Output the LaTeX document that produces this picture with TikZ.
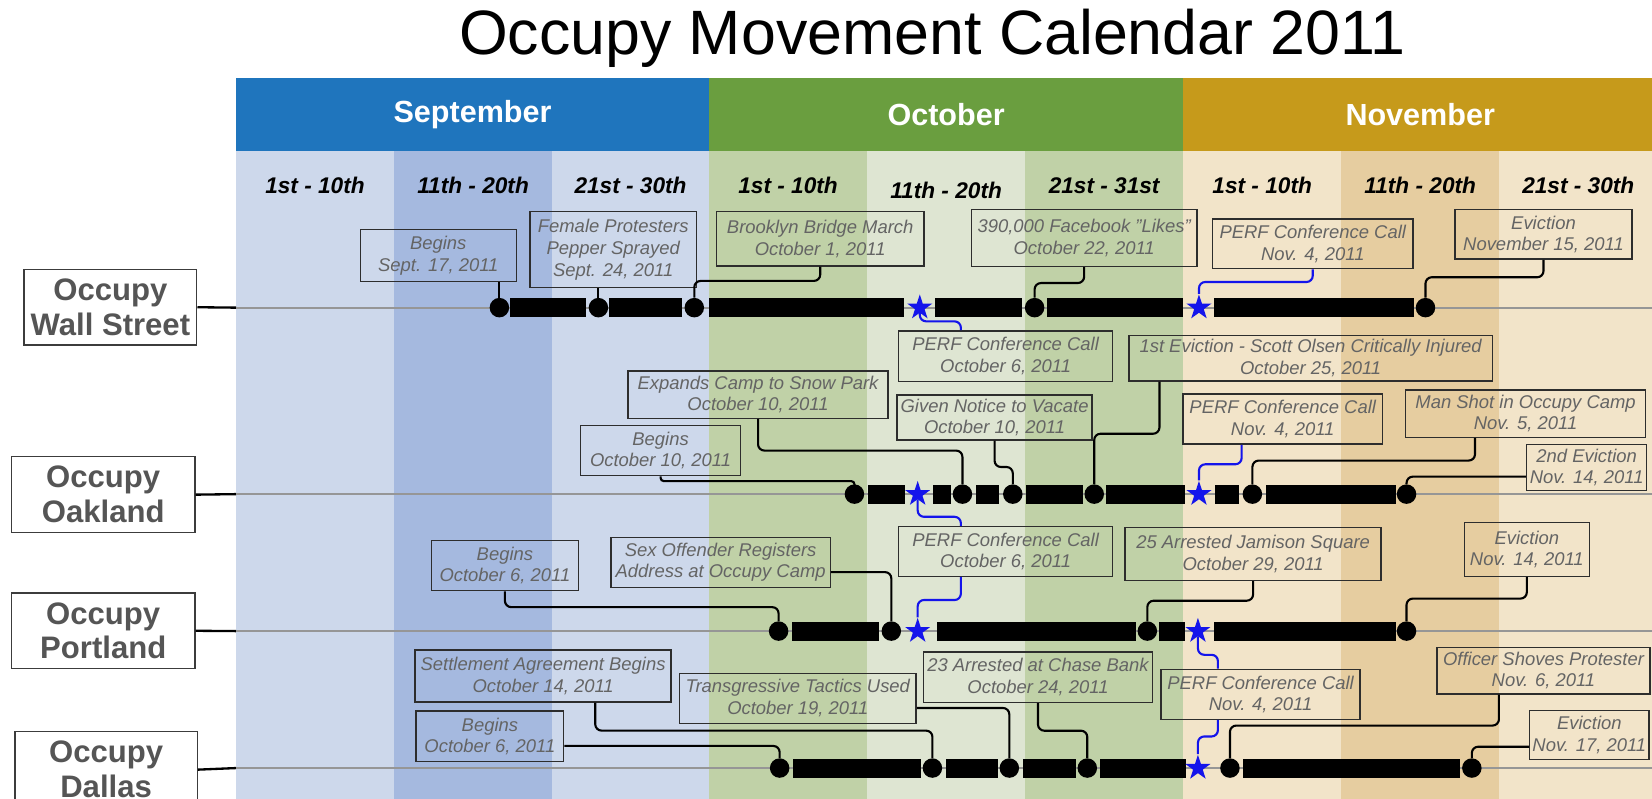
\documentclass[tikz,border=0pt]{standalone}
\usepackage{fontspec}
\setmainfont{Liberation Sans}
\usetikzlibrary{shapes.geometric}
\definecolor{sephead}{RGB}{31,117,189}
\definecolor{octhead}{RGB}{106,158,63}
\definecolor{novhead}{RGB}{198,154,27}
\definecolor{seplight}{RGB}{205,216,235}
\definecolor{sepdark}{RGB}{165,185,223}
\definecolor{octdark}{RGB}{192,209,167}
\definecolor{octlight}{RGB}{222,229,210}
\definecolor{novlight}{RGB}{242,228,201}
\definecolor{novdark}{RGB}{230,205,160}
\definecolor{callouttext}{RGB}{100,100,100}
\definecolor{calloutborder}{RGB}{45,45,45}
\definecolor{labeltext}{RGB}{85,85,85}
\definecolor{labelborder}{RGB}{60,60,60}
\definecolor{trackgray}{RGB}{150,150,150}
\definecolor{perfblue}{RGB}{20,20,235}
\begin{document}
\begin{tikzpicture}[x=1pt, y=-1pt,
rowlabel/.style={rectangle, draw=labelborder, fill=white, line width=1.3pt, minimum height=72pt, align=center, text=labeltext, font=\fontsize{29.5}{33}\selectfont\bfseries},
monthhead/.style={rectangle, minimum width=450pt, minimum height=68.5pt, inner sep=0pt, text=white, font=\fontsize{29}{32}\selectfont\bfseries},
decade/.style={anchor=base, font=\fontsize{21.5}{24}\selectfont\bfseries\itshape},
callout/.style={rectangle, draw=calloutborder, line width=1.3pt, inner sep=2pt, align=center, text=callouttext, font=\fontsize{17.5}{20.5}\selectfont\itshape},
evdot/.style={circle, fill=black, minimum size=18.5pt, inner sep=0pt},
evstar/.style={star, star points=5, star point ratio=2.6, fill=perfblue, minimum size=25pt, inner sep=0pt},
bar/.style={rectangle, fill=black, minimum height=18pt, inner sep=0pt},
track/.style={draw=trackgray, line width=2pt},
stub/.style={draw=black, line width=2.2pt},
link/.style={draw=black, line width=2pt, rounded corners=6pt},
plink/.style={draw=perfblue, line width=2pt, rounded corners=6pt}]
\useasboundingbox (0,0) rectangle (1568,758);
\clip (0,0) rectangle (1568,758);
\fill[white] (0,0) rectangle (1568,758);

\fill[seplight] (224,143) rectangle (374,758);
\fill[sepdark] (374,143) rectangle (524,758);
\fill[seplight] (524,143) rectangle (673,758);
\fill[octdark] (673,143) rectangle (823,758);
\fill[octlight] (823,143) rectangle (973,758);
\fill[octdark] (973,143) rectangle (1123,758);
\fill[novlight] (1123,143) rectangle (1273,758);
\fill[novdark] (1273,143) rectangle (1423,758);
\fill[novlight] (1423,143) rectangle (1573,758);

\node[anchor=base, font=\fontsize{59.5}{64}\selectfont] (title) at (885,52) {Occupy Movement Calendar 2011};

\node[monthhead, fill=sephead, minimum width=449pt] (sept) at (448.5,108.75) {September};
\node[monthhead, fill=octhead] (oct) at (898,108.75) {October};
\node[monthhead, fill=novhead] (nov) at (1348,108.75) {November};

\node[decade] (sepa) at (299,183.5) {1st - 10th};
\node[decade] (sepb) at (449,183.5) {11th - 20th};
\node[decade] (sepc) at (598.5,183.5) {21st - 30th};
\node[decade] (octa) at (748,183.5) {1st - 10th};
\node[decade] (octb) at (898,188.2) {11th - 20th};
\node[decade] (octc) at (1048,183.5) {21st - 31st};
\node[decade] (nova) at (1198,183.5) {1st - 10th};
\node[decade] (novb) at (1348,183.5) {11th - 20th};
\node[decade] (novc) at (1498,183.5) {21st - 30th};

\node[rowlabel, minimum width=164pt] (wsl) at (104.8,291.6) {Occupy\\Wall Street};
\node[rowlabel, minimum width=174pt] (okl) at (98,469.5) {Occupy\\Oakland};
\node[rowlabel, minimum width=174pt] (ptl) at (98,598.7) {Occupy\\Portland};
\node[rowlabel, minimum width=173pt] (dll) at (100.7,730.5) {Occupy\\Dallas};

\coordinate (wsstart) at (224,292);
\coordinate (wsend) at (1568,292);
\coordinate (okstart) at (224,469);
\coordinate (okend) at (1568,469);
\coordinate (ptstart) at (224,599);
\coordinate (ptend) at (1568,599);
\coordinate (dlstart) at (224,729);
\coordinate (dlend) at (1568,729);
\draw[stub] (wsl.east) -- (wsstart);
\draw[track] (wsstart) -- (wsend);
\draw[stub] (okl.east) -- (okstart);
\draw[track] (okstart) -- (okend);
\draw[stub] (ptl.east) -- (ptstart);
\draw[track] (ptstart) -- (ptend);
\draw[stub] (dll.east) -- (dlstart);
\draw[track] (dlstart) -- (dlend);

\node[bar, minimum width=72pt] (wsbar1) at (520,292) {};
\node[bar, minimum width=69pt] (wsbar2) at (612.5,292) {};
\node[bar, minimum width=185pt] (wsbar3) at (765.5,292) {};
\node[bar, minimum width=83pt] (wsbar4) at (928.5,292) {};
\node[bar, minimum width=129pt] (wsbar5) at (1058.5,292) {};
\node[bar, minimum width=190pt] (wsbar6) at (1247,292) {};
\node[evdot] (ws1) at (474,292) {};
\node[evdot] (ws2) at (568,292) {};
\node[evdot] (ws3) at (659,292) {};
\node[evstar] (wss1) at (873,292) {};
\node[evdot] (ws4) at (982,292) {};
\node[evstar] (wss2) at (1138,292) {};
\node[evdot] (ws5) at (1353,292) {};

\node[bar, minimum width=34.5pt] (okbar1) at (841.25,469) {};
\node[bar, minimum width=17pt] (okbar2) at (894.5,469) {};
\node[bar, minimum width=21.6pt] (okbar3) at (937.2,469) {};
\node[bar, minimum width=54.3pt] (okbar4) at (1000.65,469) {};
\node[bar, minimum width=74.7pt] (okbar5) at (1087.35,469) {};
\node[bar, minimum width=22.7pt] (okbar6) at (1164.75,469) {};
\node[bar, minimum width=123.4pt] (okbar7) at (1262.9,469) {};
\node[evdot] (ok1) at (811,469) {};
\node[evstar] (oks1) at (871,469) {};
\node[evdot] (ok2) at (913.5,469) {};
\node[evdot] (ok3) at (961.3,469) {};
\node[evdot] (ok4) at (1038.6,469) {};
\node[evstar] (oks2) at (1138,469) {};
\node[evdot] (ok5) at (1188.7,469) {};
\node[evdot] (ok6) at (1335,469) {};

\node[bar, minimum width=82.2pt] (ptbar1) at (792.8,599) {};
\node[bar, minimum width=188.8pt] (ptbar2) at (983.4,599) {};
\node[bar, minimum width=24.2pt] (ptbar3) at (1112.6,599) {};
\node[bar, minimum width=172.7pt] (ptbar4) at (1238.25,599) {};
\node[evdot] (pt1) at (739,599) {};
\node[evdot] (pt2) at (846,599) {};
\node[evstar] (pts1) at (871,599) {};
\node[evdot] (pt3) at (1089,599) {};
\node[evstar] (pts2) at (1137,599) {};
\node[evdot] (pt4) at (1335,599) {};

\node[bar, minimum width=122pt] (dlbar1) at (813.5,729) {};
\node[bar, minimum width=49pt] (dlbar2) at (922.5,729) {};
\node[bar, minimum width=50.3pt] (dlbar3) at (995.85,729) {};
\node[bar, minimum width=81.7pt] (dlbar4) at (1084.85,729) {};
\node[bar, minimum width=206pt] (dlbar5) at (1283,729) {};
\node[evdot] (dl1) at (740,729) {};
\node[evdot] (dl2) at (885,729) {};
\node[evdot] (dl3) at (958,729) {};
\node[evdot] (dl4) at (1032,729) {};
\node[evstar] (dls1) at (1137,729) {};
\node[evdot] (dl5) at (1167.4,729) {};
\node[evdot] (dl6) at (1397,729) {};

\node[callout, minimum width=148pt, minimum height=49pt] (wsA) at (416,242.5) {Begins\\Sept. 17, 2011};
\node[callout, minimum width=158pt, minimum height=72pt] (wsB) at (582,237) {Female Protesters\\Pepper Sprayed\\Sept. 24, 2011};
\node[callout, minimum width=197pt, minimum height=51.5pt] (wsC) at (778.5,226.75) {Brooklyn Bridge March\\October 1, 2011};
\node[callout, minimum width=203pt, minimum height=48pt] (wsD) at (954.5,338) {PERF Conference Call\\October 6, 2011};
\node[callout, minimum width=214pt, minimum height=54pt] (wsE) at (1029,226) {390,000 Facebook \symbol{34}Likes\symbol{34}\\October 22, 2011};
\node[callout, minimum width=190pt, minimum height=47pt] (wsF) at (1246,231.5) {PERF Conference Call\\Nov. 4, 2011};
\node[callout, minimum width=168pt, minimum height=47pt] (wsG) at (1465,222.5) {Eviction\\November 15, 2011};

\node[callout, minimum width=247pt, minimum height=45pt] (okA) at (719.5,374.5) {Expands Camp to Snow Park\\October 10, 2011};
\node[callout, minimum width=152pt, minimum height=47.5pt] (okB) at (627,427.75) {Begins\\October 10, 2011};
\node[callout, minimum width=185pt, minimum height=42.6pt] (okC) at (944,396.3) {Given Notice to Vacate\\October 10, 2011};
\node[callout, minimum width=203pt, minimum height=47pt] (pdC) at (954.5,523.5) {PERF Conference Call\\October 6, 2011};
\node[callout, minimum width=345pt, minimum height=43pt] (okD) at (1244,340) {1st Eviction - Scott Olsen Critically Injured\\October 25, 2011};
\node[callout, minimum width=189pt, minimum height=47.5pt] (okE) at (1217.5,397.75) {PERF Conference Call\\Nov. 4, 2011};
\node[callout, minimum width=228pt, minimum height=45pt] (okF) at (1448,392.5) {Man Shot in Occupy Camp\\Nov. 5, 2011};
\node[callout, minimum width=114pt, minimum height=44pt] (okG) at (1506,443.7) {2nd Eviction\\Nov. 14, 2011};

\node[callout, minimum width=139.5pt, minimum height=47.6pt] (ptA) at (479.25,536.8) {Begins\\October 6, 2011};
\node[callout, minimum width=208pt, minimum height=47.4pt] (ptB) at (684,533.7) {Sex Offender Registers\\Address at Occupy Camp};
\node[callout, minimum width=243pt, minimum height=50.5pt] (ptD) at (1189.4,525.75) {25 Arrested Jamison Square\\October 29, 2011};
\node[callout, minimum width=118.4pt, minimum height=51pt] (ptE) at (1449.2,521.5) {Eviction\\Nov. 14, 2011};
\node[callout, minimum width=189pt, minimum height=47.4pt] (pdE) at (1196.5,659) {PERF Conference Call\\Nov. 4, 2011};

\node[callout, minimum width=243pt, minimum height=49.3pt] (dlA) at (515.5,641.65) {Settlement Agreement Begins\\October 14, 2011};
\node[callout, minimum width=140pt, minimum height=48pt] (dlB) at (465,699) {Begins\\October 6, 2011};
\node[callout, minimum width=224.5pt, minimum height=47.5pt] (dlC) at (757.25,662.75) {Transgressive Tactics Used\\October 19, 2011};
\node[callout, minimum width=217.6pt, minimum height=47.6pt] (dlD) at (985.2,642.8) {23 Arrested at Chase Bank\\October 24, 2011};
\node[callout, minimum width=202pt, minimum height=44.3pt] (dlE) at (1465,636.55) {Officer Shoves Protester\\Nov. 6, 2011};
\node[callout, minimum width=113pt, minimum height=46.5pt] (dlF) at (1508.5,697.75) {Eviction\\Nov. 17, 2011};

\draw[link] ([xshift=58pt]wsA.south) -- (ws1);
\draw[link] ([xshift=-14pt]wsB.south) -- (ws2);
\draw[link] (wsC.south) -- ++(0,13.5) -| (ws3);
\draw[plink] (wss1) -- ++(0,13) -| ([xshift=-42.5pt]wsD.north);
\draw[link] (wsE.south) -- ++(0,15) -| (ws4);
\draw[plink] (wsF.south) -- ++(0,12) -| (wss2);
\draw[link] (wsG.south) -- ++(0,16.5) -| (ws5);

\draw[link, rounded corners=3pt] (okB.south) -- ++(0,4.5) -| (ok1);
\draw[link] (okA.south) -- ++(0,30) -| (ok2);
\draw[link] (okC.south) -- ++(0,25) -| (ok3);
\draw[plink] (oks1) -- ++(0,21.5) -| ([xshift=-42.5pt]pdC.north);
\draw[link] ([xshift=-143.5pt]okD.south) -- ++(0,49.5) -| (ok4);
\draw[plink] ([xshift=-39pt]okE.south) -- ++(0,18.5) -| (oks2);
\draw[link] ([xshift=-48pt]okF.south) -- ++(0,21.5) -| (ok5);
\draw[link] ([yshift=-8.7pt]okG.west) -| (ok6);

\draw[link] (ptA.south) -- ++(0,15) -| (pt1);
\draw[link] ([yshift=-9.3pt]ptB.east) -| (pt2);
\draw[plink] (pts1) -- ++(0,-29.5) -| ([xshift=-42.5pt]pdC.south);
\draw[link] (ptD.south) -- ++(0,18.5) -| (pt3);
\draw[link] (ptE.south) -- ++(0,20.5) -| (pt4);
\draw[plink] (pts2) -- ++(0,22.5) -| ([xshift=-40.5pt]pdE.north);

\draw[link] ([xshift=49.5pt]dlA.south) -- ++(0,26.5) -| (dl2);
\draw[link] ([yshift=-9pt]dlB.east) -| (dl1);
\draw[link] ([yshift=-9.25pt]dlC.east) -| (dl3);
\draw[link] (dlD.south) -- ++(0,26.3) -| (dl4);
\draw[plink] (dls1) -- ++(0,-30) -| ([xshift=-40.5pt]pdE.south);
\draw[link] ([xshift=-42.3pt]dlE.south) -- ++(0,29.3) -| (dl5);
\draw[link] ([yshift=-11pt]dlF.west) -| (dl6);
\end{tikzpicture}
\end{document}
